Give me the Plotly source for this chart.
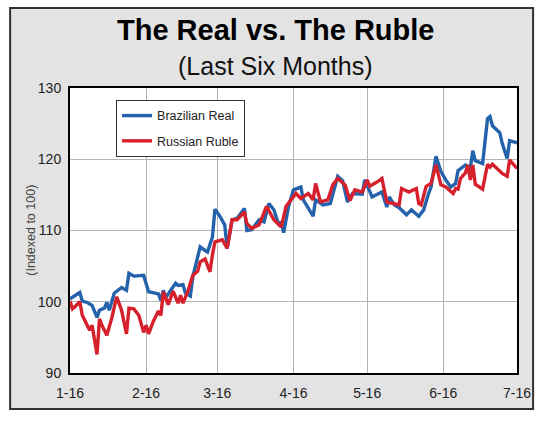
import plotly.graph_objects as go

# values (indexed to 100)
real_dates = [
    "2016-01-01", "2016-01-05", "2016-01-06", "2016-01-08", "2016-01-10", "2016-01-12",
    "2016-01-13", "2016-01-15", "2016-01-16", "2016-01-17", "2016-01-19", "2016-01-22",
    "2016-01-24", "2016-01-25", "2016-01-27", "2016-01-31", "2016-02-02", "2016-02-06",
    "2016-02-07", "2016-02-08", "2016-02-09", "2016-02-13", "2016-02-14", "2016-02-16",
    "2016-02-17", "2016-02-19", "2016-02-20", "2016-02-23", "2016-02-25", "2016-02-26",
    "2016-02-28", "2016-02-29", "2016-03-02", "2016-03-04", "2016-03-05", "2016-03-07",
    "2016-03-09", "2016-03-12", "2016-03-13", "2016-03-15", "2016-03-16", "2016-03-18",
    "2016-03-20", "2016-03-22", "2016-03-24", "2016-03-26", "2016-03-27", "2016-03-28",
    "2016-03-30", "2016-04-01", "2016-04-04", "2016-04-05", "2016-04-09", "2016-04-10",
    "2016-04-13", "2016-04-16", "2016-04-19", "2016-04-21", "2016-04-23", "2016-04-25",
    "2016-04-29", "2016-04-30", "2016-05-03", "2016-05-07", "2016-05-09", "2016-05-10",
    "2016-05-12", "2016-05-14", "2016-05-17", "2016-05-19", "2016-05-22", "2016-05-24",
    "2016-05-26", "2016-05-27", "2016-05-29", "2016-05-31", "2016-06-02", "2016-06-04",
    "2016-06-06", "2016-06-07", "2016-06-10", "2016-06-12", "2016-06-13", "2016-06-14",
    "2016-06-17", "2016-06-19", "2016-06-20", "2016-06-21", "2016-06-24", "2016-06-25",
    "2016-06-27", "2016-06-28", "2016-07-01",
]
real_values = [
    100.4, 101.3, 100.1, 99.9, 99.5, 97.8,
    98.8, 99.1, 99.9, 98.8, 101.2, 102.0,
    101.6, 104.0, 103.6, 103.7, 101.4, 101.1,
    100.2, 101.6, 100.6, 102.6, 102.3, 102.4,
    101.2, 100.8, 103.5, 107.7, 107.2, 107.0,
    109.1, 113.0, 112.0, 110.8, 107.5, 111.5,
    111.7, 113.1, 110.0, 110.1, 110.6, 111.5,
    111.2, 113.8, 112.9, 110.8, 111.2, 109.7,
    113.4, 115.7, 116.1, 114.3, 112.0, 114.3,
    113.6, 113.8, 117.6, 117.0, 114.0, 115.2,
    115.1, 117.1, 114.7, 115.4, 113.3, 114.7,
    113.6, 113.2, 112.2, 112.9, 112.0, 112.9,
    115.2, 116.1, 120.4, 118.3, 117.1, 116.1,
    116.6, 118.4, 119.2, 118.8, 121.2, 119.8,
    119.4, 125.7, 126.0, 124.7, 123.7, 122.2,
    120.1, 122.6, 122.3,
]

ruble_dates = [
    "2016-01-01", "2016-01-02", "2016-01-03", "2016-01-05", "2016-01-06", "2016-01-08",
    "2016-01-09", "2016-01-10", "2016-01-12", "2016-01-13", "2016-01-14", "2016-01-16",
    "2016-01-18", "2016-01-20", "2016-01-22", "2016-01-24", "2016-01-25", "2016-01-27",
    "2016-01-29", "2016-01-31", "2016-02-01", "2016-02-02", "2016-02-04", "2016-02-06",
    "2016-02-07", "2016-02-08", "2016-02-10", "2016-02-12", "2016-02-14", "2016-02-15",
    "2016-02-16", "2016-02-18", "2016-02-20", "2016-02-22", "2016-02-23", "2016-02-25",
    "2016-02-27", "2016-02-28", "2016-02-29", "2016-03-03", "2016-03-05", "2016-03-07",
    "2016-03-09", "2016-03-12", "2016-03-13", "2016-03-15", "2016-03-16", "2016-03-18",
    "2016-03-21", "2016-03-23", "2016-03-24", "2016-03-27", "2016-03-29", "2016-03-31",
    "2016-04-02", "2016-04-04", "2016-04-07", "2016-04-09", "2016-04-10", "2016-04-12",
    "2016-04-15", "2016-04-17", "2016-04-19", "2016-04-22", "2016-04-24", "2016-04-26",
    "2016-04-29", "2016-05-01", "2016-05-02", "2016-05-05", "2016-05-07", "2016-05-09",
    "2016-05-12", "2016-05-14", "2016-05-15", "2016-05-18", "2016-05-21", "2016-05-22",
    "2016-05-23", "2016-05-25", "2016-05-27", "2016-05-29", "2016-05-31", "2016-06-02",
    "2016-06-05", "2016-06-06", "2016-06-07", "2016-06-08", "2016-06-10", "2016-06-11",
    "2016-06-12", "2016-06-13", "2016-06-14", "2016-06-17", "2016-06-19", "2016-06-20",
    "2016-06-21", "2016-06-25", "2016-06-27", "2016-06-28", "2016-07-01",
]
ruble_values = [
    100.1, 99.0, 99.3, 100.0, 98.1, 96.6,
    96.0, 96.7, 92.6, 97.6, 96.7, 95.3,
    97.7, 100.7, 98.8, 95.5, 99.1, 99.0,
    98.1, 95.7, 96.7, 95.5, 97.3, 98.7,
    98.1, 101.4, 99.6, 101.5, 99.8, 100.9,
    99.8, 101.5, 103.7, 104.3, 105.6, 106.0,
    104.2, 106.6, 108.4, 108.7, 107.5, 111.5,
    111.5, 112.6, 111.0, 110.3, 110.5, 110.8,
    113.4, 112.2, 111.5, 110.5, 113.4, 114.3,
    115.2, 114.5, 115.2, 114.3, 116.6, 114.0,
    114.3, 116.4, 117.3, 116.4, 114.2, 115.7,
    115.4, 117.1, 116.2, 116.8, 117.3, 114.0,
    113.8, 113.6, 115.9, 115.4, 115.9, 113.8,
    113.6, 116.2, 116.6, 119.2, 116.4, 116.1,
    115.2, 115.9, 115.8, 117.3, 118.1, 119.2,
    117.1, 119.2, 116.5, 115.8, 119.3, 118.9,
    119.3, 118.0, 117.6, 119.9, 118.7,
]

month_ticks = ["2016-01-01", "2016-02-01", "2016-03-01", "2016-04-01",
               "2016-05-01", "2016-06-01", "2016-07-01"]
month_labels = ["1-16", "2-16", "3-16", "4-16", "5-16", "6-16", "7-16"]
y_ticks = [90, 100, 110, 120, 130]

FONT = "Liberation Sans, Arial, sans-serif"

fig = go.Figure()
fig.add_trace(go.Scatter(x=real_dates, y=real_values, mode="lines", name="Brazilian Real",
                         legendgroup="real", line=dict(color="#2462ab", width=3.4)))
fig.add_trace(go.Scatter(x=ruble_dates, y=ruble_values, mode="lines", name="Russian Ruble",
                         legendgroup="ruble", line=dict(color="#d6202c", width=3.4)))

fig.update_layout(
    width=550, height=426,
    margin=dict(l=70, r=33, t=88, b=53),
    paper_bgcolor="white", plot_bgcolor="white",
    font=dict(family=FONT, color="#222"),
    showlegend=True,
    legend=dict(x=0.103, y=0.958, xanchor="left", yanchor="top",
                bgcolor="white", bordercolor="#333", borderwidth=1,
                font=dict(family=FONT, size=12.5, color="#222"),
                tracegroupgap=6),
    shapes=[
        # grey panel with dark frame behind everything
        dict(type="rect", xref="paper", yref="paper", x0=-0.134, x1=1.036,
             y0=-0.126, y1=1.281, fillcolor="#e3e3e3",
             line=dict(color="#333", width=2), layer="below"),
        dict(type="rect", xref="paper", yref="paper", x0=0, x1=1, y0=0, y1=1,
             fillcolor="white", line=dict(width=0), layer="below"),
    ],
    annotations=[
        dict(text="<b>The Real vs. The Ruble</b>", xref="paper", yref="paper",
             x=0.459, y=1.2035, showarrow=False, xanchor="center", yanchor="middle",
             font=dict(family=FONT, size=29, color="black")),
        dict(text="(Last Six Months)", xref="paper", yref="paper",
             x=0.459, y=1.077, showarrow=False, xanchor="center", yanchor="middle",
             font=dict(family=FONT, size=25, color="#111")),
        dict(text="(Indexed to 100)", xref="paper", yref="paper",
             x=-0.089, y=0.5, showarrow=False, textangle=-90,
             xanchor="center", yanchor="middle",
             font=dict(family=FONT, size=12.5, color="#444")),
    ],
)

fig.update_xaxes(
    type="date", range=["2016-01-01", "2016-07-01"],
    tickvals=month_ticks, ticktext=month_labels,
    showgrid=True, gridcolor="#b4b4b4", gridwidth=1,
    showline=True, linecolor="black", linewidth=2, mirror=True,
    ticks="", ticklabelstandoff=6,
    tickfont=dict(family=FONT, size=14, color="#222"),
)
fig.update_yaxes(
    range=[90, 130], tickvals=y_ticks,
    showgrid=True, gridcolor="#b4b4b4", gridwidth=1,
    showline=True, linecolor="black", linewidth=2, mirror=True,
    ticks="", ticklabelstandoff=4, zeroline=False,
    tickfont=dict(family=FONT, size=14, color="#222"),
)

# the page adds a default body margin; drop it so the figure sits at the window origin
fig.write_html("out.html", config={"displayModeBar": False},
               post_script="document.body.style.margin='0';")
